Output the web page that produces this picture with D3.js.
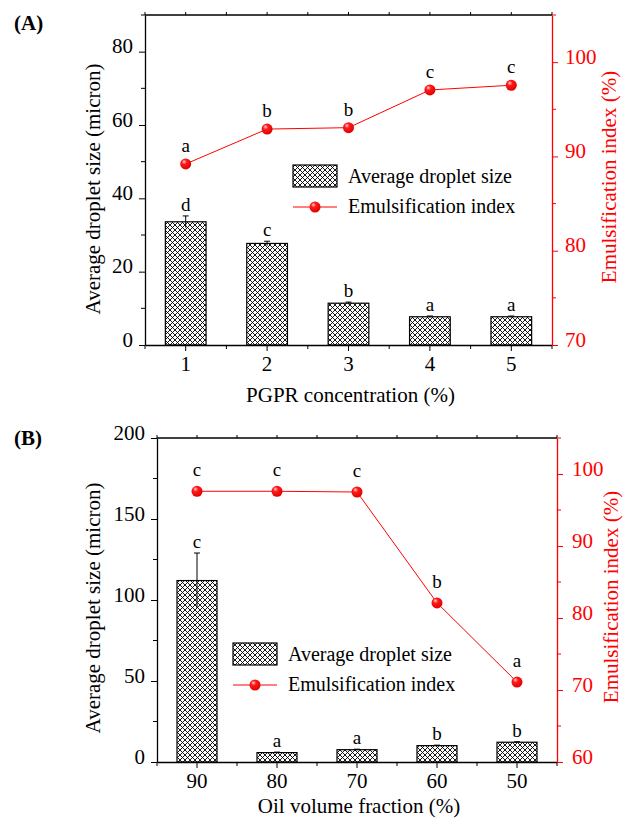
<!DOCTYPE html>
<html>
<head>
<meta charset="utf-8">
<script src="https://cdn.jsdelivr.net/npm/d3@7"></script>
<style>
  body { margin: 0; background: #fff; }
  svg { display: block; }
  svg text { font-family: "Liberation Serif", "Times New Roman", serif; }
</style>
</head>
<body>
<div class="chart"></div>
<script>
// panel A data
const concA = ['1', '2', '3', '4', '5'];
const sizeA = [33.6, 27.7, 11.4, 7.7, 7.7];
const sizeErrA = [1.6, 0.6, 0.3, 0.2, 0.2];
const sizeLetA = ['d', 'c', 'b', 'a', 'a'];
const indexA = [89.2, 92.9, 93.05, 97.05, 97.55];
const indexLetA = ['a', 'b', 'b', 'c', 'c'];

// panel B data
const oilB = ['90', '80', '70', '60', '50'];
const sizeB = [112, 5.8, 7.6, 10.1, 12.2];
const sizeErrB = [17, 0.3, 0.3, 0.3, 0.3];
const sizeLetB = ['c', 'a', 'a', 'b', 'b'];
const indexB = [97.6, 97.6, 97.5, 82.1, 71.1];
const indexLetB = ['c', 'c', 'c', 'b', 'a'];

const yTicksA = [0, 20, 40, 60, 80], yMinorA = [10, 30, 50, 70, 90];
const y2TicksA = [70, 80, 90, 100], y2MinorA = [75, 85, 95, 105];
const yTicksB = [0, 50, 100, 150, 200], yMinorB = [25, 75, 125, 175];
const y2TicksB = [60, 70, 80, 90, 100], y2MinorB = [65, 75, 85, 95, 105];

const svg = d3.select('.chart').append('svg')
    .attr('width', 630)
    .attr('height', 821);

const defs = svg.append('defs');
const T = 5;
const pat = defs.append('pattern')
    .attr('id', 'hatch')
    .attr('patternUnits', 'userSpaceOnUse')
    .attr('width', T).attr('height', T);
pat.append('rect').attr('width', T).attr('height', T).attr('fill', '#fff');
pat.append('path')
    .attr('d', `M0,0L${T},${T}M0,${T}L${T},0`)
    .attr('stroke', '#000').attr('stroke-width', 0.9)
    .attr('stroke-linecap', 'square');

const grad = defs.append('radialGradient')
    .attr('id', 'ball')
    .attr('cx', '40%').attr('cy', '35%').attr('r', '65%')
    .attr('fx', '35%').attr('fy', '30%');
grad.append('stop').attr('offset', '0%').attr('stop-color', '#ffd0d0');
grad.append('stop').attr('offset', '35%').attr('stop-color', '#ff1a1a');
grad.append('stop').attr('offset', '100%').attr('stop-color', '#e00000');

function panel(cfg) {
    const g = svg.append('g');
    const x = d3.scaleBand()
        .domain(cfg.cats)
        .range([cfg.left, cfg.right])
        .paddingInner(0.5).paddingOuter(0.25);
    const step = x.step();
    const cx = c => x(c) + x.bandwidth() / 2;
    const y = d3.scaleLinear().domain(cfg.yDomain).range([cfg.bottom, cfg.top]);
    const y2 = d3.scaleLinear().domain(cfg.y2Domain).range([cfg.bottom, cfg.top]);

    // bars
    g.selectAll('.bar')
        .data(cfg.cats)
        .enter().append('rect')
        .attr('x', d => x(d))
        .attr('width', x.bandwidth())
        .attr('y', (d, i) => y(cfg.size[i]))
        .attr('height', (d, i) => y(0) - y(cfg.size[i]))
        .attr('fill', 'url(#hatch)')
        .attr('stroke', '#000').attr('stroke-width', 1.2);

    // error bars
    cfg.cats.forEach((c, i) => {
        const hi = y(cfg.size[i] + cfg.err[i]), lo = y(cfg.size[i] - cfg.err[i]);
        g.append('line').attr('x1', cx(c)).attr('x2', cx(c))
            .attr('y1', hi).attr('y2', lo).attr('stroke', '#000').attr('stroke-width', 1);
        g.append('line').attr('x1', cx(c) - 3).attr('x2', cx(c) + 3)
            .attr('y1', hi).attr('y2', hi).attr('stroke', '#000').attr('stroke-width', 1);
        g.append('text').attr('x', cx(c)).attr('y', hi - 5)
            .attr('text-anchor', 'middle').attr('font-size', 19)
            .text(cfg.sizeLet[i]);
    });

    // emulsification line
    const line = d3.line().x((d, i) => cx(cfg.cats[i])).y(d => y2(d));
    g.append('path').datum(cfg.index)
        .attr('d', line).attr('fill', 'none')
        .attr('stroke', '#ff0000').attr('stroke-width', 1);
    g.selectAll('.pt')
        .data(cfg.index)
        .enter().append('circle')
        .attr('cx', (d, i) => cx(cfg.cats[i]))
        .attr('cy', d => y2(d))
        .attr('r', 5.5)
        .attr('fill', 'url(#ball)');
    g.selectAll('.ptlab')
        .data(cfg.index)
        .enter().append('text')
        .attr('x', (d, i) => cx(cfg.cats[i]))
        .attr('y', d => y2(d) - cfg.ptLabOff)
        .attr('text-anchor', 'middle').attr('font-size', 19)
        .text((d, i) => cfg.indexLet[i]);

    // frame
    g.append('line').attr('x1', cfg.left).attr('x2', cfg.right)
        .attr('y1', cfg.top).attr('y2', cfg.top).attr('stroke', '#000').attr('stroke-width', 1.3);

    const minorX = d3.range(cfg.cats.length + 1).map(i => cfg.left + step * i);
    minorX.concat(cfg.cats.map(cx)).forEach(v => {
        g.append('line').attr('x1', v).attr('x2', v)
            .attr('y1', cfg.top).attr('y2', cfg.top - 3).attr('stroke', '#000');
    });

    const xAxis = d3.axisBottom(x).tickSize(6).tickSizeOuter(0).tickPadding(5);
    const gx = g.append('g').attr('transform', `translate(0,${cfg.bottom})`).call(xAxis)
        .attr('font-family', null).attr('font-size', null);
    gx.selectAll('text').attr('font-size', 21).attr('fill', '#000');
    gx.select('.domain').attr('stroke-width', 1.3);
    minorX.forEach(v => {
        gx.append('line').attr('x1', v).attr('x2', v).attr('y1', 0).attr('y2', 4).attr('stroke', '#000');
    });

    const yAxis = d3.axisLeft(y).tickValues(cfg.yTicks).tickSize(6).tickPadding(6).tickSizeOuter(0);
    const gy = g.append('g').attr('transform', `translate(${cfg.left},0)`).call(yAxis)
        .attr('font-family', null).attr('font-size', null);
    gy.selectAll('text').attr('font-size', 21).attr('dy', '0.05em').attr('fill', '#000');
    gy.select('.domain').attr('stroke-width', 1.3);
    cfg.yMinor.forEach(v => {
        gy.append('line').attr('x1', 0).attr('x2', -4).attr('y1', y(v)).attr('y2', y(v)).attr('stroke', '#000');
    });

    const y2Axis = d3.axisRight(y2).tickValues(cfg.y2Ticks).tickSize(6).tickPadding(cfg.y2Pad).tickSizeOuter(0);
    const gy2 = g.append('g').attr('transform', `translate(${cfg.right},0)`).call(y2Axis)
        .attr('font-family', null).attr('font-size', null);
    gy2.selectAll('text').attr('font-size', 21).attr('dy', '0.05em').attr('fill', '#ff0000');
    gy2.selectAll('line').attr('stroke', '#ff0000');
    gy2.select('.domain').attr('stroke', '#ff0000').attr('stroke-width', 1.3);
    cfg.y2Minor.forEach(v => {
        gy2.append('line').attr('x1', 0).attr('x2', 4).attr('y1', y2(v)).attr('y2', y2(v)).attr('stroke', '#ff0000');
    });

    // titles
    g.append('text').attr('x', (cfg.left + cfg.right) / 2 + 2).attr('y', cfg.xTitleY)
        .attr('text-anchor', 'middle').attr('font-size', 21).text(cfg.xTitle);
    g.append('text')
        .attr('transform', `translate(100,${cfg.yTitleY}) rotate(-90)`)
        .attr('text-anchor', 'middle').attr('font-size', 21)
        .text('Average droplet size (micron)');
    g.append('text')
        .attr('transform', `translate(${cfg.y2TitleX},${cfg.y2TitleY}) rotate(-90)`)
        .attr('text-anchor', 'middle').attr('font-size', 21).attr('fill', '#ff0000')
        .text('Emulsification index (%)');
    g.append('text').attr('x', 14).attr('y', cfg.labelY)
        .attr('font-size', 21).attr('font-weight', 'bold').text(cfg.label);

    // legend
    const L = cfg.legend;
    g.append('rect').attr('x', L.x).attr('y', L.y).attr('width', 44).attr('height', 22)
        .attr('fill', 'url(#hatch)').attr('stroke', '#000').attr('stroke-width', 1.2);
    g.append('text').attr('x', L.x + 55).attr('y', L.y + 18).attr('font-size', 20)
        .text('Average droplet size');
    g.append('line').attr('x1', L.x).attr('x2', L.x + 44)
        .attr('y1', L.y + 42).attr('y2', L.y + 42).attr('stroke', '#ff0000');
    g.append('circle').attr('cx', L.x + 22).attr('cy', L.y + 42).attr('r', 5.5).attr('fill', 'url(#ball)');
    g.append('text').attr('x', L.x + 55).attr('y', L.y + 48).attr('font-size', 20)
        .text('Emulsification index');
}

panel({
    cats: concA, size: sizeA, err: sizeErrA, sizeLet: sizeLetA,
    index: indexA, indexLet: indexLetA,
    left: 145, right: 552, top: 15, bottom: 345,
    yDomain: [0, 90], y2Domain: [70, 105],
    yTicks: yTicksA, yMinor: yMinorA, y2Ticks: y2TicksA, y2Minor: y2MinorA,
    y2Pad: 7, ptLabOff: 12,
    xTitle: 'PGPR concentration (%)', xTitleY: 402,
    yTitleY: 189, y2TitleX: 616, y2TitleY: 177,
    label: '(A)', labelY: 30,
    legend: { x: 293, y: 165 }
});

panel({
    cats: oilB, size: sizeB, err: sizeErrB, sizeLet: sizeLetB,
    index: indexB, indexLet: indexLetB,
    left: 157, right: 557, top: 438, bottom: 762,
    yDomain: [0, 200], y2Domain: [60, 105],
    yTicks: yTicksB, yMinor: yMinorB, y2Ticks: y2TicksB, y2Minor: y2MinorB,
    y2Pad: 9, ptLabOff: 15,
    xTitle: 'Oil volume fraction (%)', xTitleY: 813,
    yTitleY: 608, y2TitleX: 618, y2TitleY: 597,
    label: '(B)', labelY: 445,
    legend: { x: 233, y: 643 }
});
</script>
</body>
</html>
